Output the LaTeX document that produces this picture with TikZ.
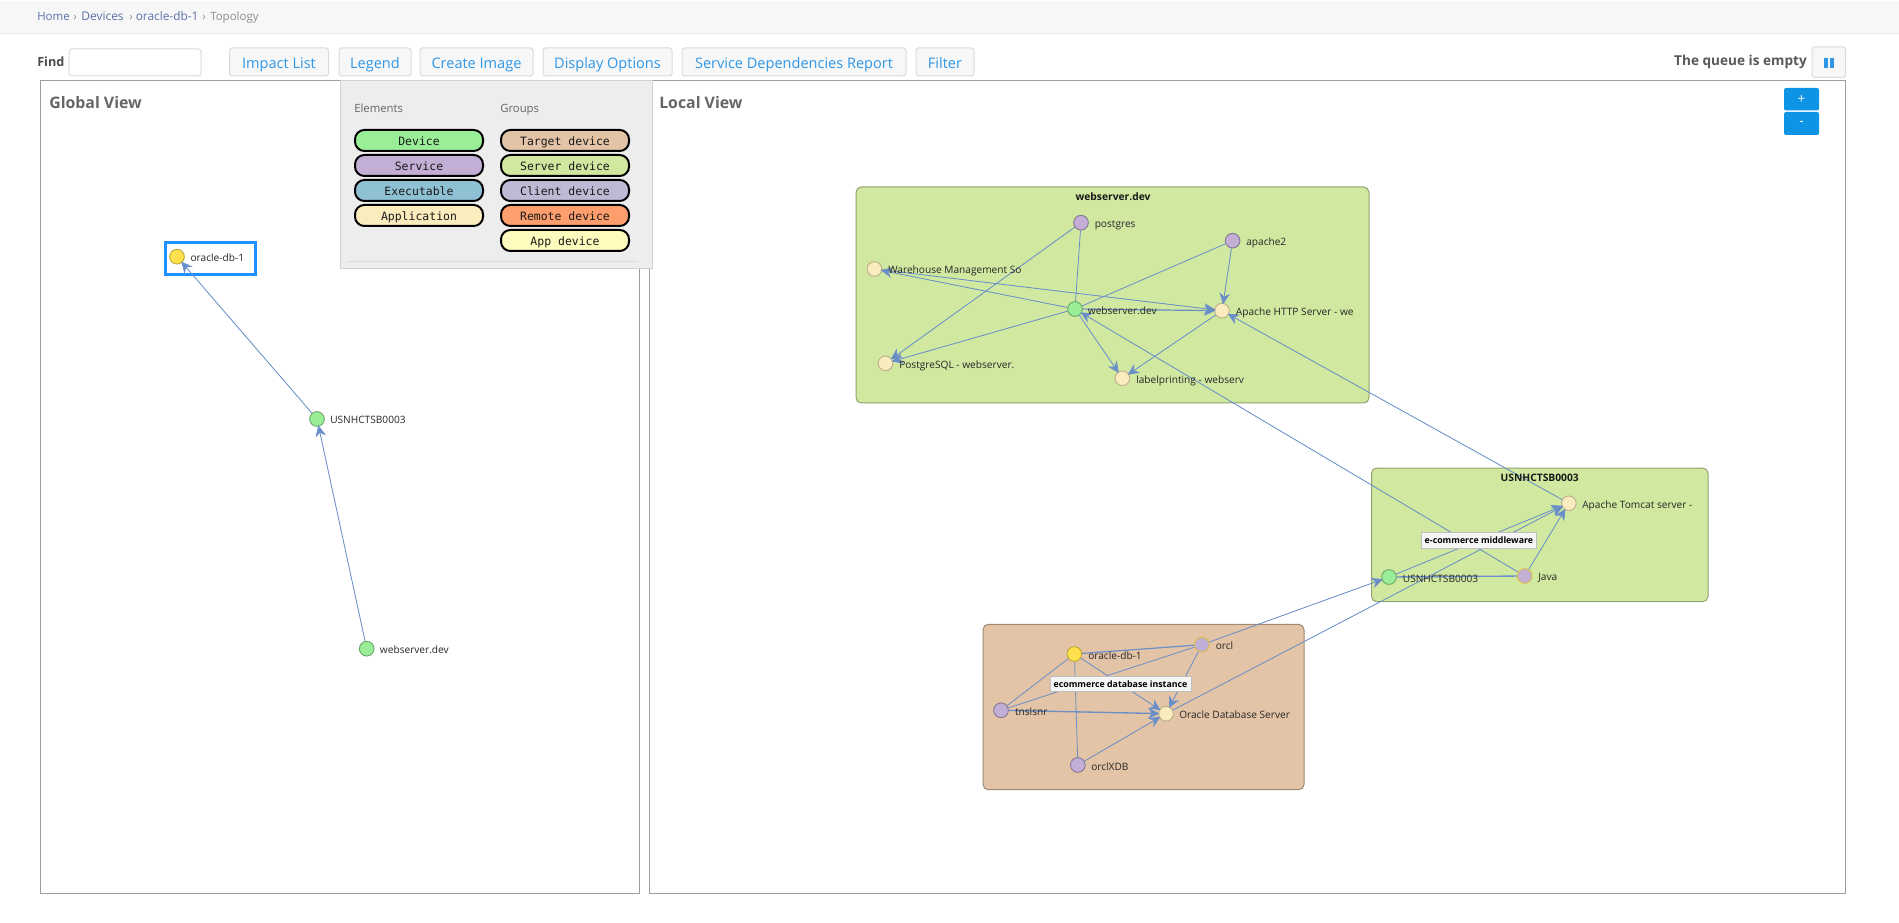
\documentclass[tikz,border=0pt]{standalone}
\usepackage{fontspec}
\setmainfont{Open Sans}
\newfontfamily\monofont{DejaVu Sans Mono}
\usetikzlibrary{arrows.meta}
\definecolor{linkblue}{HTML}{2E97E6}
\definecolor{crumbblue}{HTML}{5A70A8}
\definecolor{edgeblue}{HTML}{6A8FC8}
\definecolor{selectblue}{HTML}{1E90FF}
\definecolor{zoomblue}{HTML}{0E94E4}
\definecolor{devicecol}{HTML}{9BEE98}
\definecolor{servicecol}{HTML}{C3AED6}
\definecolor{execcol}{HTML}{8FC1D4}
\definecolor{appcol}{HTML}{FBECBD}
\definecolor{targetcol}{HTML}{E3C4A6}
\definecolor{servercol}{HTML}{D1E8A0}
\definecolor{clientcol}{HTML}{C0B9D6}
\definecolor{remotecol}{HTML}{FF9E6D}
\definecolor{appdevcol}{HTML}{FDFBBD}
\definecolor{rootcol}{HTML}{FFE14D}
\tikzset{
  vertex/.style={circle,draw,line width=0.7pt,minimum size=11pt,inner sep=0pt},
  device/.style={vertex,fill=devicecol,draw=devicecol!70!black},
  service/.style={vertex,fill=servicecol,draw=servicecol!70!black},
  svcroot/.style={vertex,fill=servicecol,draw=rootcol!85!black},
  app/.style={vertex,fill=appcol,draw=appcol!75!black},
  root/.style={vertex,fill=rootcol,draw=rootcol!75!black},
  vlabel/.style={anchor=base west,yshift=-2.6pt,inner sep=0pt,text=black!85,font=\fontsize{7.6}{10}\selectfont},
  crumb/.style={anchor=base west,inner sep=0pt,text=crumbblue,font=\fontsize{8.6}{10}\selectfont},
  link/.style={-{Stealth[length=8.5pt,width=8pt]},draw=edgeblue,fill=edgeblue,line width=0.6pt,shorten >=-1pt},
  plainlink/.style={draw=edgeblue,line width=0.6pt},
  btn/.style={draw=black!14,fill=black!3,rounded corners=2pt,line width=0.75pt,text=linkblue,font=\fontsize{10.9}{12}\selectfont,text height=10pt,text depth=0.6pt},
  pill/.style={draw=black,line width=1.5pt,rounded corners=7pt,text=black!90,font=\monofont\fontsize{8.6}{10}\selectfont,text height=8pt,text depth=0.8pt},
  panel/.style={draw=black!38,line width=0.75pt,fill=white},
  heading/.style={anchor=west,inner sep=0pt,text=black!60,font=\fontsize{11.9}{14}\selectfont\bfseries},
  legendhead/.style={anchor=base west,inner sep=0pt,text=black!60,font=\fontsize{8.5}{10}\selectfont},
  group/.style={line width=0.75pt,rounded corners=4pt},
  grouptitle/.style={inner sep=0pt,text=black!90,font=\fontsize{7.7}{10}\selectfont\bfseries},
  tag/.style={draw=black!25,fill=black!4,line width=0.75pt,text=black,font=\fontsize{6.6}{9}\selectfont\bfseries},
  zoombtn/.style={fill=zoomblue,rounded corners=1.5pt,text=white,font=\fontsize{10}{12}\selectfont}
}
\begin{document}
\begin{tikzpicture}[x=0.75pt,y=-0.75pt]
\useasboundingbox (0,0) rectangle (1899,923);
\fill[white] (0,0) rectangle (1899,923);
\fill[black!3] (0,1) rectangle (1899,34);
\draw[black!8,line width=0.75pt] (0,34)--(1899,34);
\node[crumb] (crumbhome) at (37,21) {Home};
\node[crumb,text=black!45] (crumbsepa) at (73,21) {›};
\node[crumb,font=\fontsize{9}{10}\selectfont] (crumbdevices) at (81,21) {Devices};
\node[crumb,text=black!45] (crumbsepb) at (129,21) {›};
\node[crumb,font=\fontsize{8.9}{10}\selectfont] (crumboracle) at (135.5,21) {oracle-db-1};
\node[crumb,text=black!45] (crumbsepc) at (202,21) {›};
\node[crumb,text=black!45] (crumbtopology) at (210,21) {Topology};

\node[anchor=west,inner sep=0pt,text=black!70,font=\fontsize{9.5}{12}\selectfont\bfseries] (findlabel) at (37,62) {Find};
\draw[draw=black!14,rounded corners=2pt,line width=0.75pt] (69,49) rectangle (201,76);
\draw[btn] (229.5,48) rectangle (328.5,76) node[midway] (impact) {Impact List};
\draw[btn] (339,48) rectangle (411,76) node[midway] (legend) {Legend};
\draw[btn] (420,48) rectangle (533,76) node[midway] (image) {Create Image};
\draw[btn] (543,48) rectangle (672,76) node[midway] (options) {Display Options};
\draw[btn] (682,48) rectangle (906,76) node[midway] (report) {Service Dependencies Report};
\draw[btn] (916,48) rectangle (974,76) node[midway] (filter) {Filter};
\node[anchor=east,inner sep=0pt,text=black!65,font=\fontsize{10.2}{12}\selectfont\bfseries] (queue) at (1807,62) {The queue is empty};
\draw[btn] (1812,47) rectangle (1845.5,77.5);
\fill[linkblue] (1824,58) rectangle (1828,68);
\fill[linkblue] (1830,58) rectangle (1834,68);

\draw[panel] (40,81) rectangle (639.5,893);
\draw[panel] (649.5,81) rectangle (1845,893);
\node[heading] (globalview) at (49,103) {Global View};
\node[heading] (localview) at (659,103) {Local View};
\fill[zoombtn] (1784,88) rectangle (1819,110.5) node[midway] (zoomin) {+};
\fill[zoombtn] (1784,112) rectangle (1819,135) node[midway] (zoomout) {-};

\draw[draw=selectblue,line width=2.25pt] (165,243) rectangle (255.5,275);
\node[root] (gdb) at (177,256.7) {};
\node[device] (gusn) at (317,419) {};
\node[device] (gweb) at (366.7,648.7) {};
\draw[link] (gusn)--(gdb);
\draw[link] (gweb)--(gusn);
\node[vlabel] (gdblabel) at (190.3,258) {oracle-db-1};
\node[vlabel] (gusnlabel) at (330,420) {USNHCTSB0003};
\node[vlabel] (gweblabel) at (379.7,650) {webserver.dev};

\draw[group,draw=servercol!70!black,fill=servercol] (856,187) rectangle (1369,403);
\draw[group,draw=servercol!70!black,fill=servercol] (1371.5,468) rectangle (1708,601.7);
\draw[group,draw=targetcol!70!black,fill=targetcol] (983,624.3) rectangle (1304,789.7);

\node[service] (postgres) at (1081,222.7) {};
\node[service] (apache) at (1232.6,240.7) {};
\node[app] (warehouse) at (874.4,269) {};
\node[device] (webdev) at (1075,309) {};
\node[app] (httpd) at (1222,310.7) {};
\node[app] (postgresql) at (885.5,363.3) {};
\node[app] (labelprint) at (1122.4,378.3) {};
\node[app] (tomcat) at (1568.8,503.3) {};
\node[device] (usn) at (1389,577) {};
\node[svcroot] (java) at (1524.7,576) {};
\node[root] (oracledb) at (1074.4,654) {};
\node[svcroot] (orcl) at (1201.9,644.7) {};
\node[service] (tnslsnr) at (1001,710.3) {};
\node[app] (oraserver) at (1166,713.7) {};
\node[service] (orclxdb) at (1077.8,765) {};

\draw[link] (postgres)--(postgresql);
\draw[plainlink] (postgres)--(webdev);
\draw[plainlink] (apache)--(webdev);
\draw[link] (apache)--(httpd);
\draw[link] (webdev)--(warehouse);
\draw[link] (warehouse)--(httpd);
\draw[link,line width=0.9pt] (webdev)--(httpd);
\draw[link] (webdev)--(postgresql);
\draw[link] (webdev)--(labelprint);
\draw[link] (httpd)--(labelprint);
\draw[link] (java)--(webdev);
\draw[link] (tomcat)--(httpd);
\draw[link] (usn)--(tomcat);
\draw[link] (java)--(tomcat);
\draw[plainlink,line width=1pt] (usn)--(java);
\draw[link] (oraserver)--(tomcat);
\draw[link] (orcl)--(usn);
\draw[plainlink] (tnslsnr)--(orcl);
\draw[plainlink] (tnslsnr)--(oracledb);
\draw[plainlink,line width=0.9pt] (oracledb)--(orcl);
\draw[plainlink] (oracledb)--(orclxdb);
\draw[link] (oracledb)--(oraserver);
\draw[link] (orcl)--(oraserver);
\draw[link,line width=1pt] (tnslsnr)--(oraserver);
\draw[link] (orclxdb)--(oraserver);

\node[grouptitle] (webtitle) at (1113,197) {webserver.dev};
\node[grouptitle] (usntitle) at (1539.7,478) {USNHCTSB0003};
\node[vlabel] (postgreslabel) at (1094.5,224) {postgres};
\node[vlabel] (apachelabel) at (1246,242) {apache2};
\node[vlabel] (warehouselabel) at (888,270) {Warehouse Management So};
\node[vlabel] (webdevlabel) at (1087.6,311) {webserver.dev};
\node[vlabel] (httpdlabel) at (1235.7,312) {Apache HTTP Server - we};
\node[vlabel] (postgresqllabel) at (899,365) {PostgreSQL - webserver.};
\node[vlabel] (labelprintlabel) at (1136,380) {labelprinting - webserv};
\node[vlabel] (tomcatlabel) at (1582,505) {Apache Tomcat server -};
\node[vlabel] (usnlabel) at (1402.6,579) {USNHCTSB0003};
\node[vlabel] (javalabel) at (1538,577) {Java};
\node[vlabel] (oracledblabel) at (1088,656) {oracle-db-1};
\node[vlabel] (orcllabel) at (1215.5,646) {orcl};
\node[vlabel] (tnslsnrlabel) at (1014.8,712) {tnslsnr};
\node[vlabel] (oraserverlabel) at (1179,715) {Oracle Database Server};
\node[vlabel] (orclxdblabel) at (1091,767) {orclXDB};
\draw[tag] (1421.5,532) rectangle (1536.3,548.7) node[midway] (middleware) {e-commerce middleware};
\draw[tag] (1050,676) rectangle (1191,691.7) node[midway] (dbinstance) {ecommerce database instance};

\draw[draw=black!18,fill=black!7,line width=0.75pt] (340,81) rectangle (652,269);
\draw[black!14,line width=0.75pt] (347,262)--(638,262);
\node[legendhead] (elements) at (354,113) {Elements};
\node[legendhead] (groups) at (500,113) {Groups};
\draw[pill,fill=devicecol] (355,130) rectangle (483,151) node[midway] (pilldevice) {Device};
\draw[pill,fill=servicecol] (355,155) rectangle (483,176) node[midway] (pillservice) {Service};
\draw[pill,fill=execcol] (355,180) rectangle (483,201) node[midway] (pillexec) {Executable};
\draw[pill,fill=appcol] (355,205) rectangle (483,226) node[midway] (pillapp) {Application};
\draw[pill,fill=targetcol] (501,130) rectangle (629,151) node[midway] (pilltarget) {Target device};
\draw[pill,fill=servercol] (501,155) rectangle (629,176) node[midway] (pillserver) {Server device};
\draw[pill,fill=clientcol] (501,180) rectangle (629,201) node[midway] (pillclient) {Client device};
\draw[pill,fill=remotecol] (501,205) rectangle (629,226) node[midway] (pillremote) {Remote device};
\draw[pill,fill=appdevcol] (501,230) rectangle (629,251) node[midway] (pillappdev) {App device};
\end{tikzpicture}
\end{document}
